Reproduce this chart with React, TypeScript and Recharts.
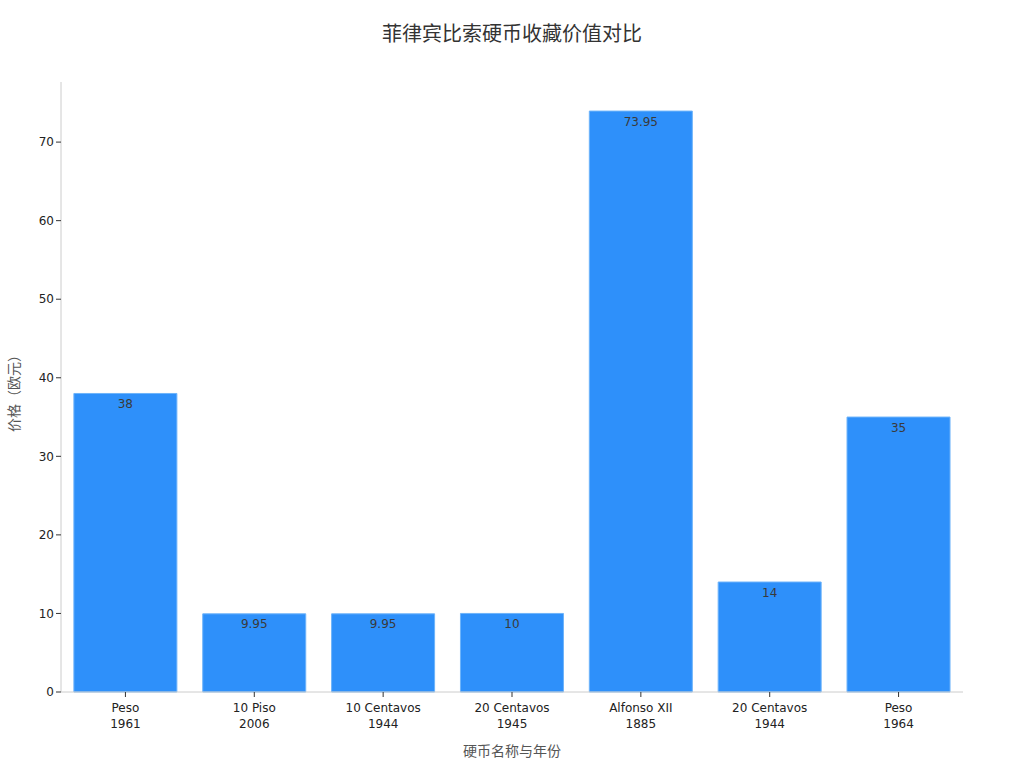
import React from 'react'
import { BarChart, Bar, XAxis, YAxis, LabelList } from 'recharts'

const coinNames = ['Peso', '10 Piso', '10 Centavos', '20 Centavos', 'Alfonso XII', '20 Centavos', 'Peso']
const coinYears = ['1961', '2006', '1944', '1945', '1885', '1944', '1964']
const prices = [38, 9.95, 9.95, 10, 73.95, 14, 35]
const yTicks = [0, 10, 20, 30, 40, 50, 60, 70]

const FONT = '"DejaVu Sans", "Noto Sans CJK SC", sans-serif'

const data = coinNames.map((name, i) => ({
  key: `${name}\n${coinYears[i]}`,
  name,
  year: coinYears[i],
  price: prices[i],
}))

// two-line category tick: coin name over year
const CoinTick = (props: any) => {
  const { x, y, payload } = props
  const [name, year] = String(payload.value).split('\n')
  return (
    <g transform={`translate(${x},${y})`}>
      <text textAnchor="middle" fill="#222" fontSize={12} fontFamily={FONT}>
        <tspan x={0} dy={13}>{name}</tspan>
        <tspan x={0} dy={16}>{year}</tspan>
      </text>
    </g>
  )
}

export default function App() {
  return (
    <div style={{ position: 'absolute', left: 0, top: 0, width: 1024, height: 768, background: '#fff', fontFamily: FONT }}>
      <div style={{ position: 'absolute', top: 18, width: 1024, textAlign: 'center', fontSize: 20, color: '#333' }}>
        菲律宾比索硬币收藏价值对比
      </div>
      <div style={{ position: 'absolute', top: 740, left: 61, width: 902, textAlign: 'center', fontSize: 14, color: '#555' }}>
        硬币名称与年份
      </div>
      <div
        style={{
          position: 'absolute', left: 13, top: 390, fontSize: 14, color: '#555', whiteSpace: 'nowrap',
          transform: 'translate(-50%, -50%) rotate(-90deg)',
        }}
      >
        价格（欧元）
      </div>
      <BarChart
        width={1024}
        height={768}
        data={data}
        margin={{ top: 82, right: 61, bottom: 0, left: 0 }}
        barCategoryGap="10%"
      >
        <XAxis
          dataKey="key"
          height={76}
          interval={0}
          stroke="#ccc"
          tickLine={{ stroke: '#333' }}
          tickSize={5}
          tick={<CoinTick />}
        />
        <YAxis
          width={61}
          domain={[0, 77.65]}
          ticks={yTicks}
          stroke="#ccc"
          tickLine={{ stroke: '#333' }}
          tickSize={5}
          tick={{ fill: '#222', fontSize: 12, fontFamily: FONT }}
        />
        <Bar dataKey="price" fill="#2E90FA" stroke="#6DB3FA" strokeWidth={1} isAnimationActive={false}>
          <LabelList dataKey="price" position="insideTop" offset={6} fill="#3a3a3a" fontSize={12} fontFamily={FONT} />
        </Bar>
      </BarChart>
    </div>
  )
}
